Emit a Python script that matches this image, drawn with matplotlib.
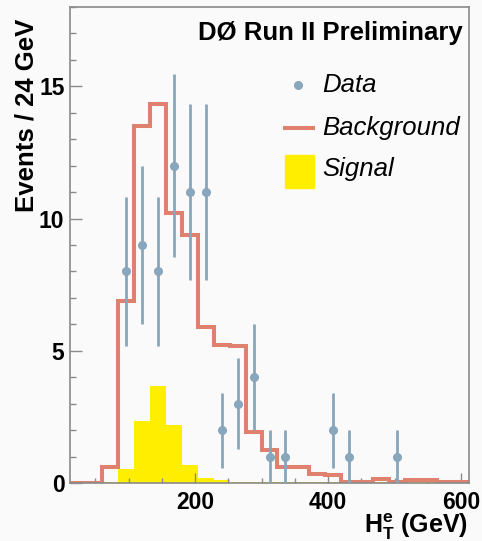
import numpy as np
import matplotlib
matplotlib.use("Agg")
import matplotlib.pyplot as plt
from matplotlib.lines import Line2D
from matplotlib.patches import Rectangle
from matplotlib.ticker import MultipleLocator, FixedLocator

plt.rcParams['font.family'] = ['Liberation Sans', 'DejaVu Sans']
plt.rcParams['mathtext.fontset'] = 'custom'
plt.rcParams['mathtext.rm'] = 'Liberation Sans'
plt.rcParams['mathtext.bf'] = 'Liberation Sans:bold'
plt.rcParams['mathtext.it'] = 'Liberation Sans:italic'

# ---- data ----
bin_edges = np.arange(12, 613, 24)  # 25 bins of 24 GeV
background = [0.0, 0.0, 0.6, 6.9, 13.5, 14.35, 10.2, 9.37, 5.9, 5.2, 5.17, 1.92,
              1.25, 0.62, 0.62, 0.34, 0.30, 0.05, 0.05, 0.15, 0.05, 0.10, 0.10, 0.02, 0.02]
signal = [0.0, 0.0, 0.05, 0.52, 2.33, 3.66, 2.19, 0.68, 0.20, 0.10, 0.05, 0.05,
          0.04, 0.04, 0.03, 0.03, 0.03, 0.03, 0.02, 0.02, 0.02, 0.02, 0.02, 0.0, 0.0]
data_x = [96, 120, 144, 168, 192, 216, 240, 264, 288, 312, 336, 408, 432, 504]
data_y = [8, 9, 8, 12, 11, 11, 2, 3, 4, 1, 1, 2, 1, 1]
x_ticks = [200, 400, 600]
y_ticks = [0, 5, 10, 15]

c_data = '#88a6bc'
c_bkg = '#e0806f'
c_sig = '#ffee00'
c_axis = '#8a8a8a'
bg = '#fafafa'

fig = plt.figure(figsize=(4.82, 5.41), dpi=100, facecolor=bg)
ax = fig.add_axes([70/482, 58/541, 399/482, 476/541], facecolor=bg)

ax.stairs(signal, bin_edges, fill=True, color=c_sig, linewidth=0, zorder=1)
ax.stairs(background, bin_edges, color=c_bkg, linewidth=2.9, zorder=2)
yerr = np.sqrt(np.array(data_y, dtype=float))
ax.errorbar(data_x, data_y, yerr=yerr, fmt='o', color=c_data, markersize=5.5,
            elinewidth=2.0, capsize=0, zorder=3)

ax.set_xlim(12, 612)
ax.set_ylim(0, 18)

ax.xaxis.set_major_locator(FixedLocator(x_ticks))
ax.xaxis.set_minor_locator(MultipleLocator(50))
ax.yaxis.set_major_locator(FixedLocator(y_ticks))
ax.yaxis.set_minor_locator(MultipleLocator(1))
ax.tick_params(axis='both', which='both', direction='in', color=c_axis, width=1.0)
ax.tick_params(axis='x', which='major', length=7, pad=6, labelsize=16.5)
ax.tick_params(axis='x', which='minor', length=3.6)
ax.tick_params(axis='y', which='major', length=8.5, pad=4, labelsize=16.5)
ax.tick_params(axis='y', which='minor', length=4.3)
for lab in ax.get_xticklabels() + ax.get_yticklabels():
    lab.set_fontweight('bold')
for s in ax.spines.values():
    s.set_color(c_axis)
    s.set_linewidth(1.2)

ax.set_ylabel('Events / 24 GeV', fontsize=18.5, fontweight='bold')
ax.yaxis.set_label_coords(-0.08, 0.773)
ax.set_xlabel(r'$\mathbf{H_T^e}$ (GeV)', fontsize=18, fontweight='bold', loc='right')
ax.xaxis.set_label_coords(0.998, -0.059)

ax.text(0.985, 0.931, 'DØ Run II Preliminary', transform=ax.transAxes, ha='right',
        va='baseline', fontsize=18.5, fontweight='bold')

# legend (manual)
ax.plot([0.571], [0.836], 'o', color=c_data, markersize=5.5, transform=ax.transAxes, clip_on=False)
ax.text(0.632, 0.836, 'Data', transform=ax.transAxes, ha='left', va='center',
        fontsize=18.5, style='italic')
ax.add_line(Line2D([0.539, 0.609], [0.746, 0.746], color=c_bkg, linewidth=2.9,
                   transform=ax.transAxes))
ax.text(0.632, 0.746, 'Background', transform=ax.transAxes, ha='left', va='center',
        fontsize=18.5, style='italic')
ax.add_patch(Rectangle((0.539, 0.620), 0.073, 0.069, color=c_sig, transform=ax.transAxes))
ax.text(0.632, 0.660, 'Signal', transform=ax.transAxes, ha='left', va='center',
        fontsize=18.5, style='italic')

fig.savefig('out.png', dpi=100, facecolor=bg)
